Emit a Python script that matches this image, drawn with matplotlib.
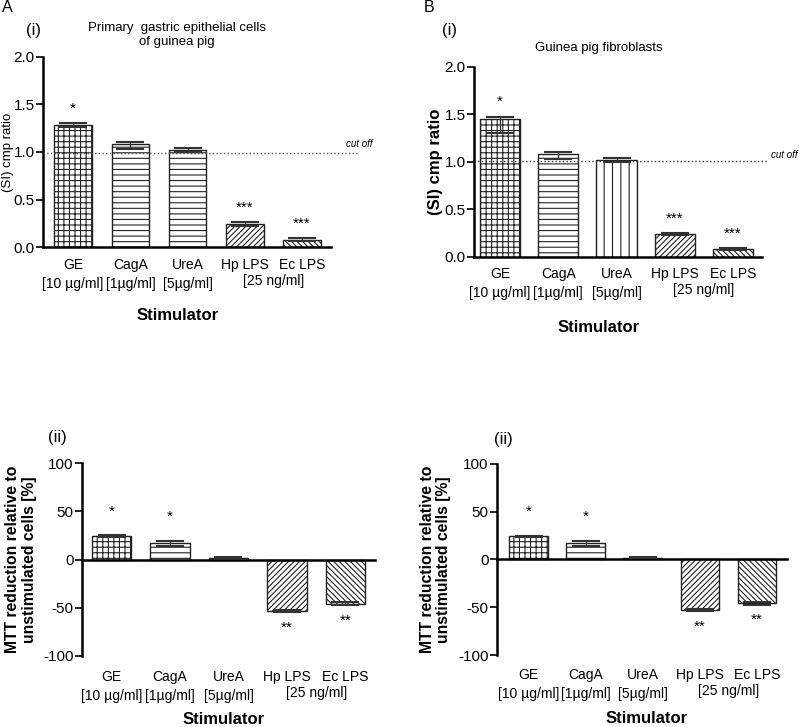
import matplotlib
matplotlib.use("Agg")
import matplotlib.pyplot as plt
import numpy as np

plt.rcParams['font.family'] = ['Liberation Sans', 'DejaVu Sans']
plt.rcParams['hatch.linewidth'] = 0.8

categories = ["GE\n[10 \u00b5g/ml]", "CagA\n[1\u00b5g/ml]", "UreA\n[5\u00b5g/ml]", "Hp LPS", "Ec LPS"]

si_epith = [1.28, 1.08, 1.02, 0.24, 0.08]
si_epith_err_lo = [0.02, 0.05, 0.02, 0.02, 0.01]
si_epith_err_hi = [0.02, 0.02, 0.02, 0.02, 0.015]
si_epith_sig = ["*", "", "", "***", "***"]
cutoff_epith = 0.99

si_fibro = [1.45, 1.08, 1.02, 0.24, 0.08]
si_fibro_err_lo = [0.15, 0.05, 0.02, 0.01, 0.01]
si_fibro_err_hi = [0.025, 0.02, 0.02, 0.01, 0.01]
si_fibro_sig = ["*", "", "", "***", "***"]
cutoff_fibro = 1.01

mtt_epith = [24, 17, 2, -53, -46]
mtt_epith_err = [1.0, 2.5, 0.5, 1.0, 1.5]
mtt_sig = ["*", "*", "", "**", "**"]

mtt_fibro = [24, 17, 2, -53, -46]
mtt_fibro_err = [1.0, 2.5, 0.5, 1.0, 1.5]

hatches_a = ['+++', '---', '---', '//////', '\\\\\\\\\\\\']
hatches_b = ['+++', '---', '||', '//////', '\\\\\\\\\\\\']

fig = plt.figure(figsize=(8, 7.27), dpi=100)

def bar_panel(rect, vals, err_lo, err_hi, hatches, xlim, width, ylim, yticks, fmt):
    ax = fig.add_axes(rect)
    x = np.arange(len(vals))
    ax.bar(x, vals, width=width, color='white', edgecolor='#222222', linewidth=1.0,
           hatch=hatches, zorder=2)
    ax.errorbar(x, vals, yerr=[err_lo, err_hi], fmt='none', ecolor='#333333', elinewidth=1.0,
                capsize=10, capthick=1.5, zorder=3)
    ax.set_xlim(*xlim)
    ax.set_ylim(*ylim)
    ax.set_yticks(yticks)
    ax.yaxis.set_major_formatter(matplotlib.ticker.FuncFormatter(fmt))
    ax.spines['top'].set_visible(False)
    ax.spines['right'].set_visible(False)
    ax.spines['left'].set_linewidth(1.8)
    ax.spines['bottom'].set_linewidth(1.8)
    ax.tick_params(axis='y', direction='out', length=5, width=1.2, labelsize=11, pad=1)
    ax.tick_params(axis='x', length=0, labelbottom=False)
    return ax

def cat_labels(ax, labels, y, fs=10):
    trans = matplotlib.transforms.blended_transform_factory(ax.transData, fig.transFigure)
    for i, lab in enumerate(labels[:3]):
        ax.text(i, y, lab, transform=trans, ha='center', va='top', fontsize=fs, linespacing=1.45)
    ax.text(3, y, labels[3], transform=trans, ha='center', va='top', fontsize=fs)
    ax.text(4, y, labels[4], transform=trans, ha='center', va='top', fontsize=fs)
    ax.text(3.5, y - 0.0225, "[25 ng/ml]", transform=trans, ha='center', va='top', fontsize=fs)

fmt1 = lambda v, p: f"{v:.1f}"
fmt0 = lambda v, p: f"{v:.0f}"

# A(i)
axA = bar_panel([0.054, 0.660, 0.360, 0.262], si_epith, si_epith_err_lo, si_epith_err_hi, hatches_a,
                (-0.524, 4.51), 0.66, (0, 2.0), [0, 0.5, 1.0, 1.5, 2.0], fmt1)
axA.plot([-0.524, 4.96], [cutoff_epith, cutoff_epith], ls=':', color='#555555', lw=1.0,
         clip_on=False, zorder=4)
axA.text(4.76, cutoff_epith + 0.04, "cut off", fontstyle='italic', fontsize=7, va='bottom', ha='left')
for i, (v, e, s) in enumerate(zip(si_epith, si_epith_err_hi, si_epith_sig)):
    if s:
        axA.text(i, v + e + 0.08, s, ha='center', va='bottom', fontsize=11)
axA.set_ylabel("(SI) cmp ratio", fontsize=9.5)
axA.yaxis.set_label_coords(-0.100, 0.5)
cat_labels(axA, categories, 0.645)
fig.text(0.222, 0.566, "Stimulator", ha='center', va='center', fontsize=12, fontweight='bold')
fig.text(0.221, 0.952, "Primary  gastric epithelial cells\nof guinea pig", ha='center', va='center',
         fontsize=9.5, linespacing=1.2)
fig.text(0.033, 0.958, "(i)", ha='left', va='center', fontsize=12)
fig.text(0.003, 0.989, "A", ha='left', va='center', fontsize=11.5)

# B(i)
axB = bar_panel([0.5925, 0.6465, 0.360, 0.2615], si_fibro, si_fibro_err_lo, si_fibro_err_hi, hatches_b,
                (-0.45, 4.50), 0.69, (0, 2.0), [0, 0.5, 1.0, 1.5, 2.0], fmt1)
axB.plot([-0.45, 4.58], [cutoff_fibro, cutoff_fibro], ls=':', color='#333333', lw=1.0,
         clip_on=False, zorder=4)
axB.text(4.65, cutoff_fibro + 0.01, "cut off", fontstyle='italic', fontsize=7, va='bottom', ha='left')
for i, (v, e, s) in enumerate(zip(si_fibro, si_fibro_err_hi, si_fibro_sig)):
    if s:
        axB.text(i, v + e + 0.08, s, ha='center', va='bottom', fontsize=11)
axB.set_ylabel("(SI) cmp ratio", fontsize=12, fontweight='bold')
axB.yaxis.set_label_coords(-0.108, 0.5)
cat_labels(axB, categories, 0.633)
fig.text(0.748, 0.550, "Stimulator", ha='center', va='center', fontsize=12, fontweight='bold')
fig.text(0.748, 0.934, "Guinea pig fibroblasts", ha='center', va='center', fontsize=9.5)
fig.text(0.553, 0.958, "(i)", ha='left', va='center', fontsize=12)
fig.text(0.530, 0.989, "B", ha='left', va='center', fontsize=11.5)

def mtt_panel(rect, vals, errs, xlim, width, stim_x, stim_y, lab_y, ii_x, ii_y, lab_x):
    ax = bar_panel(rect, vals, errs, errs, hatches_a, xlim, width, (-100, 100),
                   [-100, -50, 0, 50, 100], fmt0)
    ax.spines['bottom'].set_position(('data', 0))
    ax.spines['bottom'].set_linewidth(1.8)
    for i, (v, e, s) in enumerate(zip(vals, errs, mtt_sig)):
        if s:
            if v >= 0:
                ax.text(i, 42 if i == 0 else 37, s, ha='center', va='bottom', fontsize=11)
            else:
                ax.text(i, v - 10, s, ha='center', va='top', fontsize=11)
    ax.set_ylabel("MTT reduction relative to\nunstimulated cells [%]", fontsize=11.3,
                  fontweight='bold', linespacing=1.1)
    ax.yaxis.set_label_coords(lab_x, 0.5)
    cat_labels(ax, categories, lab_y)
    fig.text(stim_x, stim_y, "Stimulator", ha='center', va='center', fontsize=12, fontweight='bold')
    fig.text(ii_x, ii_y, "(ii)", ha='left', va='center', fontsize=12)
    return ax

mtt_panel([0.1025, 0.0977, 0.3665, 0.2653], mtt_epith, mtt_epith_err, (-0.505, 4.51), 0.67,
          0.28, 0.010, 0.079, 0.060, 0.398, -0.155)
mtt_panel([0.621, 0.099, 0.363, 0.263], mtt_fibro, mtt_fibro_err, (-0.56, 4.53), 0.68,
          0.808, 0.012, 0.081, 0.618, 0.396, -0.158)

fig.savefig("out.png", dpi=100)
